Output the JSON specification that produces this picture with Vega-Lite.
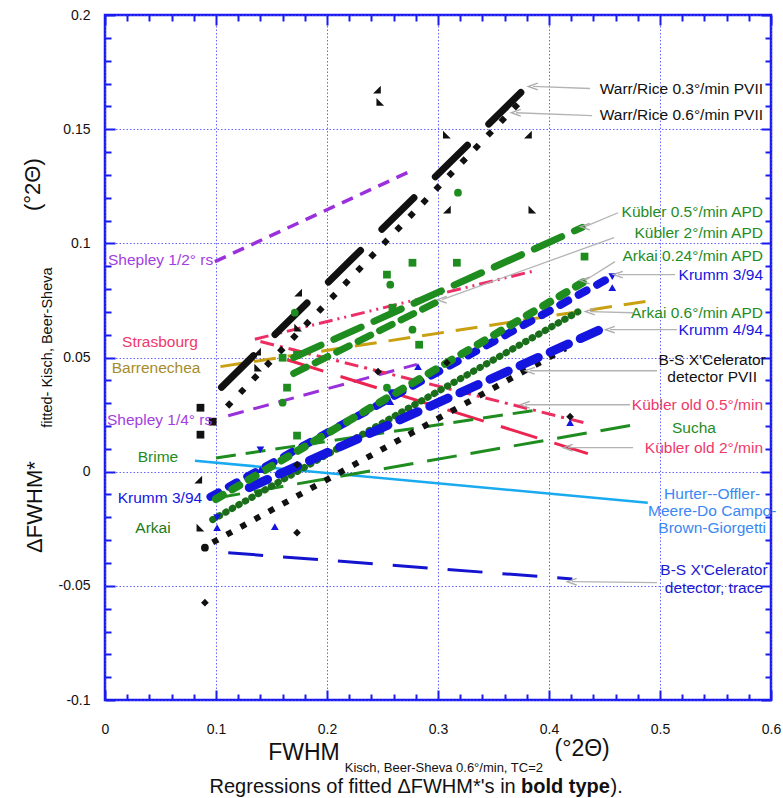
{
  "$schema": "https://vega.github.io/schema/vega-lite/v6.json",
  "width": 666,
  "height": 685,
  "autosize": {"type": "none"},
  "padding": {"left": 105, "top": 15, "right": 12, "bottom": 98},
  "background": "white",
  "config": {
    "view": {"stroke": "#1a1aee", "strokeWidth": 2.5},
    "font": "Liberation Sans"
  },
  "datasets": {
    "regressions": [
      {"series": "Hurter-Offler-Meere-Do Campo-Brown-Giorgetti", "x": 0.081, "y": 0.0048},
      {"series": "Hurter-Offler-Meere-Do Campo-Brown-Giorgetti", "x": 0.489, "y": -0.0136},
      {"series": "Shepley 1/2 rs", "x": 0.099, "y": 0.092},
      {"series": "Shepley 1/2 rs", "x": 0.277, "y": 0.132},
      {"series": "Shepley 1/4 rs", "x": 0.111, "y": 0.0245},
      {"series": "Shepley 1/4 rs", "x": 0.281, "y": 0.047},
      {"series": "Barrenechea", "x": 0.104, "y": 0.046},
      {"series": "Barrenechea", "x": 0.493, "y": 0.075},
      {"series": "Strasbourg", "x": 0.135, "y": 0.058},
      {"series": "Strasbourg", "x": 0.387, "y": 0.088},
      {"series": "Kubler old 0.5", "x": 0.14, "y": 0.057},
      {"series": "Kubler old 0.5", "x": 0.431, "y": 0.0215},
      {"series": "Kubler old 2", "x": 0.164, "y": 0.049},
      {"series": "Kubler old 2", "x": 0.435, "y": 0.0079},
      {"series": "Brime", "x": 0.1, "y": 0.006},
      {"series": "Brime", "x": 0.389, "y": 0.027},
      {"series": "Sucha", "x": 0.095, "y": -0.012},
      {"series": "Sucha", "x": 0.482, "y": 0.021},
      {"series": "B-S trace", "x": 0.111, "y": -0.0355},
      {"series": "B-S trace", "x": 0.421, "y": -0.047},
      {"series": "Arkai 0.6 APD", "x": 0.097, "y": -0.021},
      {"series": "Arkai 0.6 APD", "x": 0.426, "y": 0.07},
      {"series": "B-S PVII", "x": 0.097, "y": -0.031},
      {"series": "B-S PVII", "x": 0.415, "y": 0.054},
      {"series": "Warr/Rice 0.6", "x": 0.11, "y": 0.0285},
      {"series": "Warr/Rice 0.6", "x": 0.374, "y": 0.162},
      {"series": "Krumm 4/94", "x": 0.13, "y": -0.007},
      {"series": "Krumm 4/94", "x": 0.452, "y": 0.0635},
      {"series": "Krumm 3/94", "x": 0.095, "y": -0.011},
      {"series": "Krumm 3/94", "x": 0.455, "y": 0.085},
      {"series": "Arkai 0.24 APD", "x": 0.1, "y": -0.012},
      {"series": "Arkai 0.24 APD", "x": 0.431, "y": 0.083},
      {"series": "Kubler 2 APD", "x": 0.17, "y": 0.043},
      {"series": "Kubler 2 APD", "x": 0.302, "y": 0.075},
      {"series": "Kubler 0.5 APD", "x": 0.17, "y": 0.05},
      {"series": "Kubler 0.5 APD", "x": 0.43, "y": 0.107},
      {"series": "Warr/Rice 0.3", "x": 0.105, "y": 0.037},
      {"series": "Warr/Rice 0.3", "x": 0.385, "y": 0.171}
    ],
    "samples": [
      {"x": 0.245, "y": 0.1673, "group": "black", "marker": "ra-a"},
      {"x": 0.248, "y": 0.162, "group": "black", "marker": "ra-b"},
      {"x": 0.308, "y": 0.1476, "group": "black", "marker": "ra-b"},
      {"x": 0.381, "y": 0.1476, "group": "black", "marker": "ra-a"},
      {"x": 0.308, "y": 0.1148, "group": "black", "marker": "ra-a"},
      {"x": 0.385, "y": 0.1148, "group": "black", "marker": "ra-b"},
      {"x": 0.174, "y": 0.0784, "group": "black", "marker": "ra-a"},
      {"x": 0.174, "y": 0.0631, "group": "black", "marker": "ra-b"},
      {"x": 0.137, "y": 0.0526, "group": "black", "marker": "ra-a"},
      {"x": 0.138, "y": 0.0456, "group": "black", "marker": "ra-b"},
      {"x": 0.084, "y": -0.0035, "group": "black", "marker": "ra-a"},
      {"x": 0.086, "y": -0.0245, "group": "black", "marker": "ra-b"},
      {"x": 0.09, "y": -0.0574, "group": "black", "marker": "diamond"},
      {"x": 0.173, "y": -0.0267, "group": "black", "marker": "diamond"},
      {"x": 0.246, "y": 0.0438, "group": "black", "marker": "diamond"},
      {"x": 0.308, "y": 0.0477, "group": "black", "marker": "diamond"},
      {"x": 0.419, "y": 0.0241, "group": "black", "marker": "diamond"},
      {"x": 0.173, "y": 0.003, "group": "black", "marker": "diamond"},
      {"x": 0.09, "y": -0.0333, "group": "black", "marker": "dot"},
      {"x": 0.086, "y": 0.028, "group": "black", "marker": "square"},
      {"x": 0.097, "y": 0.0219, "group": "black", "marker": "square"},
      {"x": 0.086, "y": 0.0162, "group": "black", "marker": "square"},
      {"x": 0.457, "y": 0.0806, "group": "blue", "marker": "tri-up"},
      {"x": 0.419, "y": 0.0215, "group": "blue", "marker": "tri-up"},
      {"x": 0.282, "y": 0.046, "group": "blue", "marker": "tri-up"},
      {"x": 0.153, "y": -0.0241, "group": "blue", "marker": "tri-up"},
      {"x": 0.14, "y": 0.0009, "group": "blue", "marker": "tri-up"},
      {"x": 0.101, "y": -0.0245, "group": "blue", "marker": "tri-up"},
      {"x": 0.257, "y": 0.0307, "group": "blue", "marker": "tri-up"},
      {"x": 0.457, "y": 0.0854, "group": "blue", "marker": "tri-down"},
      {"x": 0.14, "y": 0.0096, "group": "blue", "marker": "tri-down"},
      {"x": 0.257, "y": 0.0346, "group": "blue", "marker": "tri-down"},
      {"x": 0.101, "y": -0.0201, "group": "blue", "marker": "tri-down"},
      {"x": 0.277, "y": 0.0915, "group": "green", "marker": "square"},
      {"x": 0.254, "y": 0.0863, "group": "green", "marker": "square"},
      {"x": 0.317, "y": 0.0915, "group": "green", "marker": "square"},
      {"x": 0.259, "y": 0.0718, "group": "green", "marker": "square"},
      {"x": 0.283, "y": 0.0556, "group": "green", "marker": "square"},
      {"x": 0.173, "y": 0.0158, "group": "green", "marker": "square"},
      {"x": 0.16, "y": 0.0499, "group": "green", "marker": "square"},
      {"x": 0.164, "y": 0.0368, "group": "green", "marker": "square"},
      {"x": 0.173, "y": 0.0512, "group": "green", "marker": "square"},
      {"x": 0.432, "y": 0.0942, "group": "green", "marker": "square"},
      {"x": 0.318, "y": 0.1222, "group": "green", "marker": "circle"},
      {"x": 0.257, "y": 0.0819, "group": "green", "marker": "circle"},
      {"x": 0.277, "y": 0.0622, "group": "green", "marker": "circle"},
      {"x": 0.16, "y": 0.0302, "group": "green", "marker": "circle"},
      {"x": 0.171, "y": 0.0696, "group": "green", "marker": "circle"},
      {"x": 0.254, "y": 0.0368, "group": "green", "marker": "circle"}
    ],
    "pointers": [
      {"x": 0.3856, "y": 0.1687, "x2": 0.437, "y2": 0.1678},
      {"x": 0.3703, "y": 0.1572, "x2": 0.4387, "y2": 0.1559},
      {"x": 0.4324, "y": 0.1073, "x2": 0.4622, "y2": 0.1134},
      {"x": 0.3036, "y": 0.0753, "x2": 0.4586, "y2": 0.1025},
      {"x": 0.4324, "y": 0.0837, "x2": 0.4595, "y2": 0.092},
      {"x": 0.4622, "y": 0.0863, "x2": 0.5135, "y2": 0.0863},
      {"x": 0.4369, "y": 0.0701, "x2": 0.4757, "y2": 0.0696},
      {"x": 0.455, "y": 0.0622, "x2": 0.5153, "y2": 0.0622},
      {"x": 0.3829, "y": 0.0442, "x2": 0.4973, "y2": 0.0442},
      {"x": 0.3784, "y": 0.0293, "x2": 0.473, "y2": 0.0293},
      {"x": 0.4171, "y": 0.0105, "x2": 0.4757, "y2": 0.0105},
      {"x": 0.4207, "y": -0.0482, "x2": 0.4973, "y2": -0.0486}
    ],
    "labelsRight": [
      {"t": "Warr/Rice 0.3°/min PVII", "x": 0.5928, "y": 0.1678, "tone": "black"},
      {"t": "Warr/Rice 0.6°/min PVII", "x": 0.5928, "y": 0.1564, "tone": "black"},
      {"t": "Kübler 0.5°/min APD", "x": 0.5928, "y": 0.1139, "tone": "green"},
      {"t": "Kübler 2°/min APD", "x": 0.5928, "y": 0.1047, "tone": "green"},
      {"t": "Arkai 0.24°/min APD", "x": 0.5928, "y": 0.0946, "tone": "green"},
      {"t": "Krumm 3/94", "x": 0.5928, "y": 0.0863, "tone": "blue"},
      {"t": "Arkai 0.6°/min APD", "x": 0.5928, "y": 0.0696, "tone": "green"},
      {"t": "Krumm 4/94", "x": 0.5928, "y": 0.0622, "tone": "blue"},
      {"t": "Kübler old 0.5°/min", "x": 0.5928, "y": 0.0293, "tone": "pink"},
      {"t": "Kübler old 2°/min", "x": 0.5928, "y": 0.0105, "tone": "pink"}
    ],
    "labelsCenter": [
      {"t": "B-S X'Celerator", "x": 0.547, "y": 0.0491, "tone": "black"},
      {"t": "detector PVII", "x": 0.547, "y": 0.0414, "tone": "black"},
      {"t": "Sucha", "x": 0.5306, "y": 0.0193, "tone": "green"},
      {"t": "Hurter--Offler-", "x": 0.547, "y": -0.0096, "tone": "sky"},
      {"t": "Meere-Do Campo-", "x": 0.547, "y": -0.0171, "tone": "sky"},
      {"t": "Brown-Giorgetti", "x": 0.547, "y": -0.0246, "tone": "sky"},
      {"t": "B-S X'Celerator", "x": 0.5486, "y": -0.0432, "tone": "navy"},
      {"t": "detector, trace", "x": 0.5486, "y": -0.0509, "tone": "navy"},
      {"t": "Strasbourg", "x": 0.0495, "y": 0.0569, "tone": "pink"},
      {"t": "Barrenechea", "x": 0.046, "y": 0.0456, "tone": "olive"},
      {"t": "Brime", "x": 0.0477, "y": 0.0066, "tone": "green"},
      {"t": "Krumm 3/94", "x": 0.0495, "y": -0.0114, "tone": "blue"},
      {"t": "Arkai", "x": 0.0432, "y": -0.0245, "tone": "darkgreen"}
    ],
    "labelsLeft": [
      {"t": "Shepley 1/2°  rs", "x": 0.0027, "y": 0.0929, "tone": "purple"},
      {"t": "Shepley 1/4°  rs", "x": 0.0018, "y": 0.0228, "tone": "purple"}
    ],
    "titleMain": [
      {"t": "FWHM", "x": 0.147, "y": -0.1261},
      {"t": "(°2Θ)", "x": 0.405, "y": -0.1244}
    ],
    "titleSub": [
      {"t": "Kisch, Beer-Sheva 0.6°/min, TC=2", "x": 0.216, "y": -0.1314}
    ],
    "yTitleMain": [
      {"t": "ΔFWHM*", "x": -0.063, "y": -0.0155},
      {"t": "(°2Θ)", "x": -0.0645, "y": 0.1257}
    ],
    "yTitleSub": [
      {"t": "fitted- Kisch, Beer-Sheva", "x": -0.0514, "y": 0.0543}
    ],
    "captionA": [{"t": "Regressions of fitted ΔFWHM*'s in", "x": 0.37, "y": -0.1406}],
    "captionB": [{"t": "bold type", "x": 0.3748, "y": -0.1406}],
    "captionC": [{"t": ").", "x": 0.4555, "y": -0.1406}]
  },
  "encoding": {
    "x": {"field": "x", "type": "quantitative", "scale": {"domain": [0, 0.6], "nice": false, "zero": false}, "axis": null},
    "y": {"field": "y", "type": "quantitative", "scale": {"domain": [-0.1, 0.2], "nice": false, "zero": false}, "axis": null}
  },
  "layer": [
    {"data": {"name": "regressions"}, "transform": [{"filter": {"field": "series", "equal": "Hurter-Offler-Meere-Do Campo-Brown-Giorgetti"}}],
     "mark": {"type": "line", "color": "#1aaaf0", "strokeWidth": 2.5},
     "encoding": {
       "x": {
         "field": "x",
         "type": "quantitative",
         "scale": {"domain": [0, 0.6], "nice": false, "zero": false},
         "axis": {
           "orient": "bottom",
           "title": null,
           "values": [0, 0.02, 0.04, 0.06, 0.08, 0.1, 0.12, 0.14, 0.16, 0.18, 0.2, 0.22, 0.24, 0.26, 0.28, 0.3, 0.32, 0.34, 0.36, 0.38, 0.4, 0.42, 0.44, 0.46, 0.48, 0.5, 0.52, 0.54, 0.56, 0.58, 0.6],
           "domain": false,
           "grid": true,
           "gridColor": "#4a4aff",
           "gridDash": [1.5, 2],
           "gridWidth": 1,
           "gridOpacity": {"condition": {"test": "abs(datum.value*10 - round(datum.value*10)) < 1e-6", "value": 0.85}, "value": 0},
           "tickColor": "#1a1aee",
           "tickWidth": 2,
           "tickSize": {"condition": {"test": "abs(datum.value*10 - round(datum.value*10)) < 1e-6", "value": -10}, "value": -6},
           "labelExpr": "abs(datum.value*10 - round(datum.value*10)) < 1e-6 ? '' + datum.value : ''",
           "labelFont": "Liberation Sans",
           "labelFontSize": 14,
           "labelColor": "#111111",
           "labelPadding": 32,
           "labelFlush": false,
           "labelOverlap": false,
           "labelBound": false
         }
       },
       "y": {
         "field": "y",
         "type": "quantitative",
         "scale": {"domain": [-0.1, 0.2], "nice": false, "zero": false},
         "axis": {
           "orient": "left",
           "title": null,
           "values": [-0.1, -0.09, -0.08, -0.07, -0.06, -0.05, -0.04, -0.03, -0.02, -0.01, 0, 0.01, 0.02, 0.03, 0.04, 0.05, 0.06, 0.07, 0.08, 0.09, 0.1, 0.11, 0.12, 0.13, 0.14, 0.15, 0.16, 0.17, 0.18, 0.19, 0.2],
           "domain": false,
           "grid": true,
           "gridColor": "#4a4aff",
           "gridDash": [1.5, 2],
           "gridWidth": 1,
           "gridOpacity": {"condition": {"test": "abs(datum.value*20 - round(datum.value*20)) < 1e-6", "value": 0.85}, "value": 0},
           "tickColor": "#1a1aee",
           "tickWidth": 2,
           "tickSize": {"condition": {"test": "abs(datum.value*20 - round(datum.value*20)) < 1e-6", "value": -10}, "value": -6},
           "labelExpr": "abs(datum.value*20 - round(datum.value*20)) < 1e-6 ? '' + datum.value : ''",
           "labelFont": "Liberation Sans",
           "labelFontSize": 14,
           "labelColor": "#111111",
           "labelPadding": 25,
           "labelOverlap": false,
           "labelFlush": false,
           "labelBound": false
         }
       }
     }},
    {"data": {"name": "regressions"}, "transform": [{"filter": {"field": "series", "equal": "Shepley 1/2 rs"}}],
     "mark": {"type": "line", "color": "#9a30dc", "strokeWidth": 3.5, "strokeDash": [12, 8]}},
    {"data": {"name": "regressions"}, "transform": [{"filter": {"field": "series", "equal": "Shepley 1/4 rs"}}],
     "mark": {"type": "line", "color": "#9a30dc", "strokeWidth": 3, "strokeDash": [16, 10]}},
    {"data": {"name": "regressions"}, "transform": [{"filter": {"field": "series", "equal": "Barrenechea"}}],
     "mark": {"type": "line", "color": "#c9a012", "strokeWidth": 3, "strokeDash": [22, 12]}},
    {"data": {"name": "regressions"}, "transform": [{"filter": {"field": "series", "equal": "Strasbourg"}}],
     "mark": {"type": "line", "color": "#ec2f68", "strokeWidth": 3, "strokeDash": [14, 5, 2, 5, 2, 5]}},
    {"data": {"name": "regressions"}, "transform": [{"filter": {"field": "series", "equal": "Kubler old 0.5"}}],
     "mark": {"type": "line", "color": "#ec2f60", "strokeWidth": 3, "strokeDash": [14, 6, 3, 6]}},
    {"data": {"name": "regressions"}, "transform": [{"filter": {"field": "series", "equal": "Kubler old 2"}}],
     "mark": {"type": "line", "color": "#ec2450", "strokeWidth": 3, "strokeDash": [38, 18]}},
    {"data": {"name": "regressions"}, "transform": [{"filter": {"field": "series", "equal": "Brime"}}],
     "mark": {"type": "line", "color": "#1f8c1f", "strokeWidth": 3, "strokeDash": [20, 10]}},
    {"data": {"name": "regressions"}, "transform": [{"filter": {"field": "series", "equal": "Sucha"}}],
     "mark": {"type": "line", "color": "#1f8c1f", "strokeWidth": 3, "strokeDash": [30, 14]}},
    {"data": {"name": "regressions"}, "transform": [{"filter": {"field": "series", "equal": "B-S trace"}}],
     "mark": {"type": "line", "color": "#1414d0", "strokeWidth": 3, "strokeDash": [35, 20]}},
    {"data": {"name": "regressions"}, "transform": [{"filter": {"field": "series", "equal": "Arkai 0.6 APD"}}],
     "mark": {"type": "line", "color": "#1a6e1a", "strokeWidth": 7, "strokeCap": "round", "strokeDash": [0.5, 7]}},
    {"data": {"name": "regressions"}, "transform": [{"filter": {"field": "series", "equal": "B-S PVII"}}],
     "mark": {"type": "line", "color": "#111111", "strokeWidth": 6, "strokeDash": [6, 10]}},
    {"data": {"name": "regressions"}, "transform": [{"filter": {"field": "series", "equal": "Warr/Rice 0.6"}}],
     "mark": {"type": "line", "color": "#111111", "strokeWidth": 6, "strokeDash": [6, 12.8]}},
    {"data": {"name": "regressions"}, "transform": [{"filter": {"field": "series", "equal": "Krumm 4/94"}}],
     "mark": {"type": "line", "color": "#1515e0", "strokeWidth": 9, "strokeCap": "round", "strokeDash": [20, 13]}},
    {"data": {"name": "regressions"}, "transform": [{"filter": {"field": "series", "equal": "Krumm 3/94"}}],
     "mark": {"type": "line", "color": "#1515e0", "strokeWidth": 8, "strokeCap": "round", "strokeDash": [9, 12]}},
    {"data": {"name": "regressions"}, "transform": [{"filter": {"field": "series", "equal": "Arkai 0.24 APD"}}],
     "mark": {"type": "line", "color": "#1f8c1f", "strokeWidth": 8, "strokeCap": "round", "strokeDash": [8, 11]}},
    {"data": {"name": "regressions"}, "transform": [{"filter": {"field": "series", "equal": "Kubler 2 APD"}}],
     "mark": {"type": "line", "color": "#1f8c1f", "strokeWidth": 7, "strokeCap": "round", "strokeDash": [14, 10]}},
    {"data": {"name": "regressions"}, "transform": [{"filter": {"field": "series", "equal": "Kubler 0.5 APD"}}],
     "mark": {"type": "line", "color": "#1f8c1f", "strokeWidth": 7, "strokeCap": "round", "strokeDash": [30, 14]}},
    {"data": {"name": "regressions"}, "transform": [{"filter": {"field": "series", "equal": "Warr/Rice 0.3"}}],
     "mark": {"type": "line", "color": "#111111", "strokeWidth": 7, "strokeCap": "round", "strokeDash": [45, 30]}},
    {
      "data": {"name": "samples"},
      "mark": {"type": "point", "filled": true, "opacity": 1, "size": 60},
      "encoding": {
        "x": {
          "field": "x", "type": "quantitative",
          "scale": {"domain": [0, 0.6], "nice": false, "zero": false},
          "axis": {
            "orient": "top", "title": null, "labels": false, "grid": false, "domain": false,
            "values": [0, 0.02, 0.04, 0.06, 0.08, 0.1, 0.12, 0.14, 0.16, 0.18, 0.2, 0.22, 0.24, 0.26, 0.28, 0.3, 0.32, 0.34, 0.36, 0.38, 0.4, 0.42, 0.44, 0.46, 0.48, 0.5, 0.52, 0.54, 0.56, 0.58, 0.6],
            "tickColor": "#1a1aee", "tickWidth": 2,
            "tickSize": {"condition": {"test": "abs(datum.value*10 - round(datum.value*10)) < 1e-6", "value": -10}, "value": -6}
          }
        },
        "y": {
          "field": "y", "type": "quantitative",
          "scale": {"domain": [-0.1, 0.2], "nice": false, "zero": false},
          "axis": {
            "orient": "right", "title": null, "labels": false, "grid": false, "domain": false,
            "values": [-0.1, -0.09, -0.08, -0.07, -0.06, -0.05, -0.04, -0.03, -0.02, -0.01, 0, 0.01, 0.02, 0.03, 0.04, 0.05, 0.06, 0.07, 0.08, 0.09, 0.1, 0.11, 0.12, 0.13, 0.14, 0.15, 0.16, 0.17, 0.18, 0.19, 0.2],
            "tickColor": "#1a1aee", "tickWidth": 2,
            "tickSize": {"condition": {"test": "abs(datum.value*20 - round(datum.value*20)) < 1e-6", "value": -10}, "value": -6}
          }
        },
        "color": {"field": "group", "type": "nominal", "legend": null,
          "scale": {"domain": ["black", "green", "blue", "darkgreen", "pink", "purple", "olive", "sky", "navy"],
                    "range": ["#111111", "#1f8c1f", "#1515e0", "#1a7a1a", "#f0386a", "#a23ee0", "#a68c2a", "#3a88f2", "#1a1ad0"]}},
        "shape": {"field": "marker", "type": "nominal", "legend": null,
          "scale": {"domain": ["square", "circle", "diamond", "dot", "tri-up", "tri-down", "ra-a", "ra-b"],
                    "range": ["square", "circle", "diamond", "circle", "triangle-up", "triangle-down", "M 1 -1 L 1 1 L -1 1 Z", "M -1 -1 L -1 1 L 1 1 Z"]}}
      }
    },
    {
      "data": {"name": "pointers"},
      "mark": {"type": "rule", "color": "#b3b3b3", "strokeWidth": 1.3},
      "encoding": {"x2": {"field": "x2"}, "y2": {"field": "y2"}}
    },
    {
      "data": {"name": "pointers"},
      "mark": {"type": "point", "shape": "M 1 -0.7 L -1 0 L 1 0.7", "filled": false, "stroke": "#aaaaaa", "strokeWidth": 1.3, "size": 90, "opacity": 1}
    },
    {
      "data": {"name": "labelsRight"},
      "mark": {"type": "text", "align": "right", "baseline": "middle", "fontSize": 15.5, "font": "Liberation Sans"},
      "encoding": {
        "text": {"field": "t"},
        "color": {"field": "tone", "type": "nominal", "legend": null,
          "scale": {"domain": ["black", "green", "blue", "darkgreen", "pink", "purple", "olive", "sky", "navy"],
                    "range": ["#111111", "#1f8c1f", "#1515e0", "#1a7a1a", "#f0386a", "#a23ee0", "#a68c2a", "#3a88f2", "#1a1ad0"]}}
      }
    },
    {
      "data": {"name": "labelsCenter"},
      "mark": {"type": "text", "align": "center", "baseline": "middle", "fontSize": 15.5, "font": "Liberation Sans"},
      "encoding": {
        "text": {"field": "t"},
        "color": {"field": "tone", "type": "nominal", "legend": null,
          "scale": {"domain": ["black", "green", "blue", "darkgreen", "pink", "purple", "olive", "sky", "navy"],
                    "range": ["#111111", "#1f8c1f", "#1515e0", "#1a7a1a", "#f0386a", "#a23ee0", "#a68c2a", "#3a88f2", "#1a1ad0"]}}
      }
    },
    {
      "data": {"name": "labelsLeft"},
      "mark": {"type": "text", "align": "left", "baseline": "middle", "fontSize": 15.5, "font": "Liberation Sans"},
      "encoding": {
        "text": {"field": "t"},
        "color": {"field": "tone", "type": "nominal", "legend": null,
          "scale": {"domain": ["black", "green", "blue", "darkgreen", "pink", "purple", "olive", "sky", "navy"],
                    "range": ["#111111", "#1f8c1f", "#1515e0", "#1a7a1a", "#f0386a", "#a23ee0", "#a68c2a", "#3a88f2", "#1a1ad0"]}}
      }
    },
    {
      "data": {"name": "titleMain"},
      "mark": {"type": "text", "align": "left", "baseline": "alphabetic", "fontSize": 23, "font": "Liberation Sans", "color": "#111111"},
      "encoding": {"text": {"field": "t"}}
    },
    {
      "data": {"name": "titleSub"},
      "mark": {"type": "text", "align": "left", "baseline": "alphabetic", "fontSize": 13, "font": "Liberation Sans", "color": "#111111"},
      "encoding": {"text": {"field": "t"}}
    },
    {
      "data": {"name": "yTitleMain"},
      "mark": {"type": "text", "align": "center", "baseline": "middle", "angle": 270, "fontSize": 22, "font": "Liberation Sans", "color": "#111111"},
      "encoding": {"text": {"field": "t"}}
    },
    {
      "data": {"name": "yTitleSub"},
      "mark": {"type": "text", "align": "center", "baseline": "middle", "angle": 270, "fontSize": 14.5, "font": "Liberation Sans", "color": "#111111"},
      "encoding": {"text": {"field": "t"}}
    },
    {
      "data": {"name": "captionA"},
      "mark": {"type": "text", "align": "right", "baseline": "alphabetic", "fontSize": 20, "font": "Liberation Sans", "color": "#111111"},
      "encoding": {"text": {"field": "t"}}
    },
    {
      "data": {"name": "captionB"},
      "mark": {"type": "text", "align": "left", "baseline": "alphabetic", "fontSize": 20, "fontWeight": "bold", "font": "Liberation Sans", "color": "#111111"},
      "encoding": {"text": {"field": "t"}}
    },
    {
      "data": {"name": "captionC"},
      "mark": {"type": "text", "align": "left", "baseline": "alphabetic", "fontSize": 20, "font": "Liberation Sans", "color": "#111111"},
      "encoding": {"text": {"field": "t"}}
    }
  ]
}
